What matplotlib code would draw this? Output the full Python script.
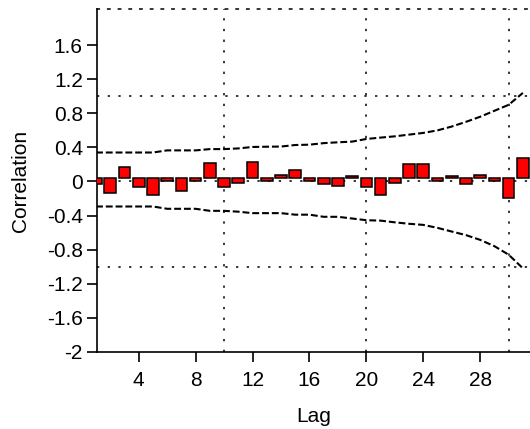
import matplotlib
matplotlib.use("Agg")
import matplotlib.pyplot as plt
import numpy as np

plt.rcParams['font.family'] = ['Liberation Sans', 'DejaVu Sans']
plt.rcParams['font.size'] = 15

# autocorrelation per lag (bar tips) and the confidence limits
lags = np.arange(1, 32)
acf = [-0.025, -0.14, 0.17, -0.06, -0.155, 0.0, -0.11, 0.0, 0.22, -0.065,
       -0.02, 0.225, 0.0, 0.08, 0.13, 0.0, -0.025, -0.05, 0.065, -0.065,
       -0.16, -0.02, 0.2, 0.2, 0.0, 0.06, -0.03, 0.08, 0.0, -0.2, 0.28]
upper = [0.34, 0.34, 0.34, 0.34, 0.34, 0.365, 0.365, 0.365, 0.38, 0.38,
         0.388, 0.405, 0.408, 0.41, 0.428, 0.432, 0.45, 0.46, 0.468, 0.499,
         0.515, 0.53, 0.55, 0.57, 0.60, 0.645, 0.70, 0.76, 0.83, 0.90, 1.04]
lower = [-0.294, -0.294, -0.294, -0.294, -0.294, -0.321, -0.321, -0.321, -0.345, -0.345,
         -0.355, -0.372, -0.372, -0.372, -0.39, -0.39, -0.415, -0.415, -0.435, -0.455,
         -0.46, -0.48, -0.497, -0.51, -0.545, -0.588, -0.63, -0.686, -0.76, -0.86, -1.02]

BASE = 0.04  # bars hang from here rather than exactly 0

fig = plt.figure(figsize=(5.30, 4.29), dpi=100)
ax = fig.add_axes([0.1825, 0.180, 0.8175, 0.798])

dots = (0, (1.5, 5.5))
for x in (10, 20, 30):
    ax.axvline(x, color='black', lw=1.1, linestyle=dots, zorder=1)
for y in (-1, 0, 1):
    ax.axhline(y, color='black', lw=1.1, linestyle=dots, zorder=1)

heights = np.array(acf) - BASE
ax.bar(lags, heights, bottom=BASE, width=0.82, color='#ff0000',
       edgecolor='black', linewidth=1.1, zorder=3)

ax.plot(lags, upper, color='black', lw=1.5, linestyle=(0, (3.3, 1.4)), zorder=2)
ax.plot(lags, lower, color='black', lw=1.5, linestyle=(0, (3.3, 1.4)), zorder=2)

ax.set_xlim(1.05, 31.5)
ax.set_ylim(-2, 2.02)
ax.set_xticks(np.arange(4, 29, 4))
ax.set_yticks(np.round(np.arange(-2, 1.7, 0.4), 1))
ax.set_yticklabels(['-2', '-1.6', '-1.2', '-0.8', '-0.4', '0', '0.4', '0.8', '1.2', '1.6'])

ax.spines['right'].set_visible(False)
ax.spines['top'].set_linestyle(dots)
ax.spines['top'].set_linewidth(1.1)
ax.spines['left'].set_linewidth(1.2)
ax.spines['bottom'].set_linewidth(1.2)
ax.tick_params(axis='both', direction='out', length=7, width=1.2)
ax.tick_params(axis='x', pad=7)
ax.tick_params(axis='y', pad=3)

ax.set_xlabel('Lag', labelpad=12)
ax.set_ylabel('Correlation', labelpad=12)

fig.savefig('out.png', dpi=100)
